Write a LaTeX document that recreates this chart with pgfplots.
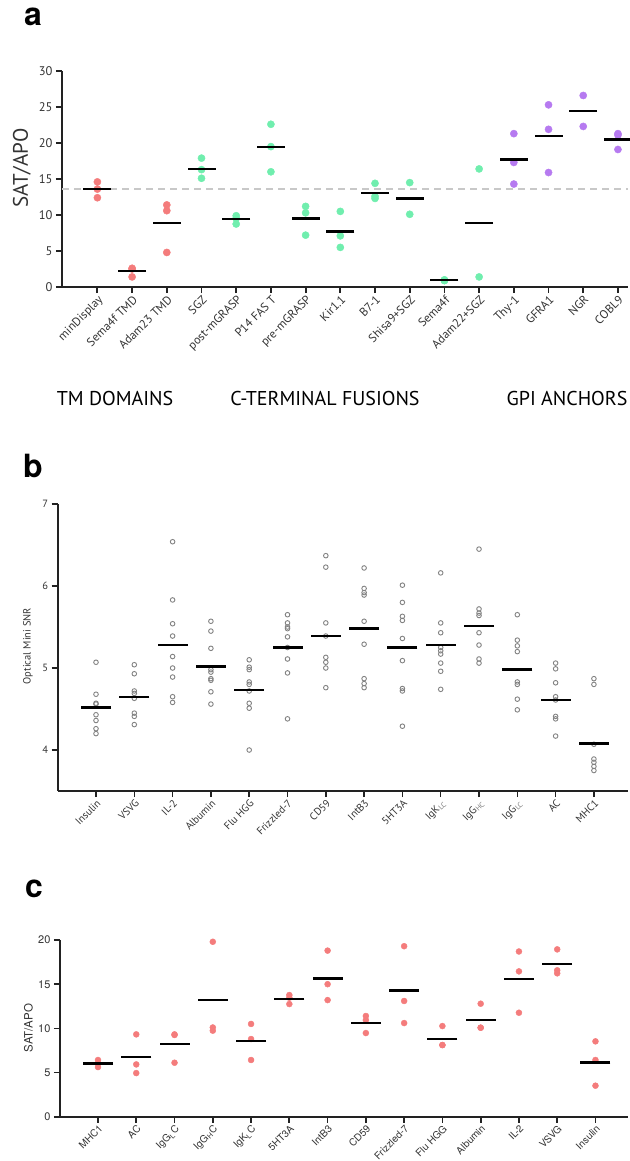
\documentclass[border=0pt]{standalone}
\usepackage{pgfplots}
\pgfplotsset{compat=1.18}
\usepackage{fontspec}
\setmainfont{PT Sans}
\newfontfamily\heros{TeX Gyre Heros}
\definecolor{cred}{RGB}{244,124,124}
\definecolor{cgreen}{RGB}{112,238,174}
\definecolor{cpurple}{RGB}{182,122,240}
\definecolor{axc}{RGB}{34,34,34}
\definecolor{tl}{RGB}{51,51,51}
\definecolor{cgray}{RGB}{130,130,130}
\pgfplotsset{
  myaxis/.style={
    scale only axis,
    axis x line*=bottom, axis y line*=left,
    tick align=outside,
    major tick length=6pt,
    /pgf/number format/assume math mode=true,
    clip=false,
    anchor=south west,
    xtick={0,...,15},
    ticklabel style={text=tl},
  },
  meanline/.style={only marks, mark=-, mark size=#1, mark options={line width=2.3pt, draw=black}},
}
\begin{document}
\begin{tikzpicture}
\useasboundingbox (0pt,0pt) rectangle (629pt,-1161pt);
% ---------------- panel a
\begin{axis}[myaxis, at={(62pt,-287pt)}, width=566pt, height=216pt,
  xmin=-1.02, xmax=15.29, ymin=0, ymax=30, ytick={0,5,...,30},
  axis line style={axc, line width=2.4pt},
  tick style={axc, line width=1.8pt},
  xticklabels={minDisplay,Sema4f TMD,Adam23 TMD,SGZ,post-mGRASP,P14 FAS T,pre-mGRASP,Kir1.1,B7-1,Shisa9+SGZ,Sema4f,Adam22+SGZ,Thy-1,GFRA1,NGR,COBL9},
  xticklabel style={rotate=45, anchor=north east, inner sep=1pt, font=\fontsize{12}{12}\selectfont},
  yticklabel style={font=\fontsize{12.5}{12.5}\selectfont},
  ylabel={SAT/APO},
  ylabel style={at={(axis description cs:-0.0707,0.55)}, anchor=center, font=\fontsize{21}{21}\selectfont, text=tl},
]
\addplot[densely dashed, draw={rgb,255:red,200;green,200;blue,200}, line width=1.6pt, dash pattern=on 7pt off 5pt] coordinates {(-1.02,13.6) (15.29,13.6)};
\addplot[only marks, mark=*, mark size=3.6pt, mark options={draw=cred, fill=cred}] table {
0 14.6
0 13.6
0 12.4
1 2.6
1 2.5
1 1.4
2 11.4
2 10.6
2 4.8
};
\addplot[only marks, mark=*, mark size=3.6pt, mark options={draw=cgreen, fill=cgreen}] table {
3 17.9
3 16.3
3 15.1
4 9.9
4 9.55
4 8.75
5 22.6
5 19.5
5 16.0
6 11.2
6 10.3
6 7.2
7 10.5
7 7.1
7 5.5
8 14.4
8 12.6
8 12.3
9 14.5
9 10.1
10 1.0
10 0.9
10 0.9
11 16.4
11 1.4
};
\addplot[only marks, mark=*, mark size=3.6pt, mark options={draw=cpurple, fill=cpurple}] table {
12 21.3
12 17.3
12 14.3
13 25.3
13 21.9
13 15.9
14 26.6
14 22.3
15 21.3
15 21.1
15 19.1
};
\addplot[meanline=14pt] table {
0 13.6
1 2.2
2 8.9
3 16.4
4 9.4
5 19.4
6 9.5
7 7.7
8 13.1
9 12.3
10 0.95
11 8.9
12 17.7
13 21.0
14 24.4
15 20.5
};
\end{axis}
\node[font=\fontsize{20}{20}\selectfont, text=black] at (115pt,-398pt) {TM DOMAINS};
\node[font=\fontsize{20}{20}\selectfont, text=black] at (325pt,-398pt) {C-TERMINAL FUSIONS};
\node[font=\fontsize{20}{20}\selectfont, text=black] at (567pt,-398pt) {GPI ANCHORS};
\node[font=\heros\bfseries\fontsize{32}{32}\selectfont] at (33pt,-17pt) {a};
% ---------------- panel b
\begin{axis}[myaxis, at={(57.7pt,-791pt)}, width=570.3pt, height=287pt,
  xmin=-1.0, xmax=13.89, ymin=3.5, ymax=7, ytick={4,5,6,7},
  axis line style={axc, line width=2pt},
  tick style={axc, line width=1.5pt},
  xtick={0,...,13},
  xticklabels={Insulin,VSVG,IL-2,Albumin,Flu HGG,Frizzled-7,CD59,IntB3,5HT3A,IgK\textsubscript{\color{gray}LC},IgG\textsubscript{\color{gray}HC},IgG\textsubscript{\color{gray}LC},AC,MHC1},
  xticklabel style={rotate=45, anchor=north east, inner sep=1pt, font=\fontsize{10.5}{10.5}\selectfont},
  yticklabel style={font=\fontsize{10.5}{10.5}\selectfont},
  ylabel={Optical Mini SNR},
  ylabel style={at={(axis description cs:-0.052,0.505)}, anchor=center, font=\fontsize{10.5}{10.5}\selectfont, text=tl},
]
\addplot[only marks, mark=o, mark size=2.3pt, mark options={draw=cgray, line width=0.9pt}] table {
0 5.07
0 4.68
0 4.57
0 4.56
0 4.43
0 4.36
0 4.26
0 4.20
1 5.04
1 4.93
1 4.72
1 4.69
1 4.63
1 4.45
1 4.41
1 4.31
2 6.54
2 5.83
2 5.54
2 5.39
2 5.14
2 5.00
2 4.89
2 4.65
2 4.58
3 5.57
3 5.45
3 5.24
3 4.98
3 4.95
3 4.87
3 4.85
3 4.71
3 4.56
4 5.10
4 5.01
4 4.98
4 4.83
4 4.80
4 4.72
4 4.57
4 4.51
4 4.00
5 5.65
5 5.55
5 5.50
5 5.48
5 5.38
5 5.25
5 5.11
5 4.94
5 4.38
6 6.37
6 6.23
6 5.55
6 5.39
6 5.13
6 5.07
6 5.00
6 4.76
7 6.22
7 5.97
7 5.92
7 5.89
7 5.57
7 5.29
7 4.87
7 4.81
7 4.76
8 6.01
8 5.80
8 5.63
8 5.58
8 5.36
8 5.09
8 4.75
8 4.72
8 4.29
9 6.16
9 5.55
9 5.43
9 5.25
9 5.21
9 5.17
9 5.06
9 4.96
9 4.74
10 6.45
10 5.72
10 5.67
10 5.64
10 5.43
10 5.28
10 5.11
10 5.06
11 5.65
11 5.34
11 5.27
11 5.20
11 4.83
11 4.80
11 4.62
11 4.49
12 5.06
12 4.99
12 4.82
12 4.65
12 4.61
12 4.41
12 4.38
12 4.17
13 4.87
13 4.80
13 4.07
13 3.89
13 3.85
13 3.80
13 3.75
};
\addplot[meanline=15pt] table {
0 4.52
1 4.65
2 5.28
3 5.02
4 4.73
5 5.25
6 5.39
7 5.48
8 5.25
9 5.28
10 5.51
11 4.98
12 4.61
13 4.08
};
\end{axis}
\node[font=\heros\bfseries\fontsize{32}{32}\selectfont] at (33pt,-466pt) {b};
% ---------------- panel c
\begin{axis}[myaxis, at={(60pt,-1116.7pt)}, width=568pt, height=176.7pt,
  xmin=-0.993, xmax=13.85, ymin=0, ymax=20, ytick={0,5,...,20},
  axis line style={axc, line width=2.3pt},
  tick style={axc, line width=1.7pt},
  xtick={0,...,13},
  xticklabels={MHC1,AC,IgG\textsubscript{L}C,IgG\textsubscript{H}C,IgK\textsubscript{L}C,5HT3A,IntB3,CD59,Frizzled-7,Flu HGG,Albumin,IL-2,VSVG,Insulin},
  xticklabel style={rotate=45, anchor=north east, inner sep=1pt, font=\heros\fontsize{10}{10}\selectfont},
  yticklabel style={font=\heros\fontsize{11}{11}\selectfont},
  ylabel={SAT/APO},
  ylabel style={at={(axis description cs:-0.0555,0.502)}, anchor=center, font=\heros\fontsize{11.5}{11.5}\selectfont, text=tl},
]
\addplot[only marks, mark=*, mark size=3pt, mark options={draw=cred, fill=cred}] table {
0 6.42
0 6.04
0 5.62
1 9.32
1 5.92
1 4.94
2 9.32
2 9.25
2 6.11
3 19.8
3 10.1
3 9.74
4 10.5
4 8.79
4 6.42
5 13.77
5 13.47
5 12.75
6 18.8
6 15.0
6 13.2
7 11.4
7 10.94
7 9.47
8 19.3
8 13.1
8 10.6
9 10.26
9 8.11
9 8.11
10 12.79
10 10.08
10 10.07
11 18.7
11 16.45
11 11.77
12 18.94
12 16.57
12 16.23
13 8.53
13 6.42
13 3.51
};
\addplot[meanline=15pt] table {
0 6.04
1 6.72
2 8.23
3 13.2
4 8.6
5 13.3
6 15.66
7 10.6
8 14.3
9 8.83
10 10.98
11 15.6
12 17.28
13 6.15
};
\end{axis}
\node[font=\heros\bfseries\fontsize{32}{32}\selectfont] at (34pt,-889pt) {c};
\end{tikzpicture}
\end{document}
